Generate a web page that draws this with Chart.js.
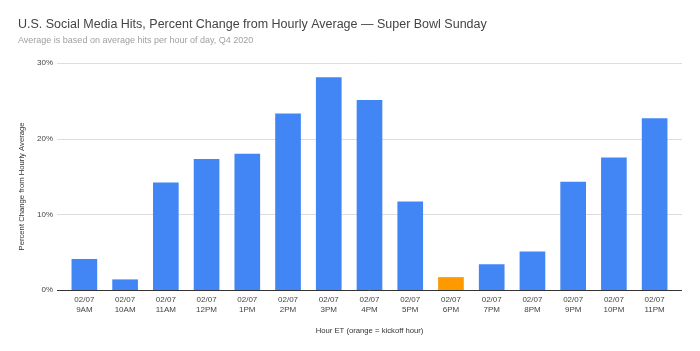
<!DOCTYPE html>
<html><head><meta charset="utf-8">
<script src="https://cdn.jsdelivr.net/npm/chart.js@4/dist/chart.umd.min.js"></script>
<style>html,body{margin:0;padding:0;background:#fff}#wrap{width:700px;height:351px}</style>
</head><body><div id="wrap"><canvas id="c"></canvas></div>
<script>
const dates = ["02/07","02/07","02/07","02/07","02/07","02/07","02/07","02/07","02/07","02/07","02/07","02/07","02/07","02/07","02/07"];
const hours = ["9AM","10AM","11AM","12PM","1PM","2PM","3PM","4PM","5PM","6PM","7PM","8PM","9PM","10PM","11PM"];
const pctChange = [4.1, 1.4, 14.2, 17.3, 18.0, 23.3, 28.1, 25.1, 11.7, 1.7, 3.4, 5.1, 14.3, 17.5, 22.7];
const kickoffHour = "6PM";
const yTicks = [0, 10, 20, 30];
const yTitle = 'Percent Change from Hourly Average';

const labels = dates.map((d, i) => [d, hours[i]]);
const colors = hours.map(h => h === kickoffHour ? '#FF9900' : '#4285F4');
const FONT = "'Liberation Sans', Arial, sans-serif";
const GRID_EXT = 7;

// horizontal gridlines a bit wider than the category area, and y title centred on plot + x labels
const wideGrid = {
  id: 'wideGrid',
  beforeDatasetsDraw(chart) {
    const { ctx, chartArea, scales: { y } } = chart;
    ctx.save();
    y.ticks.forEach(t => {
      const py = Math.round(y.getPixelForValue(t.value)) + 0.5;
      ctx.strokeStyle = '#dddddd';
      ctx.lineWidth = 1;
      ctx.beginPath();
      ctx.moveTo(chartArea.left - GRID_EXT, py);
      ctx.lineTo(chartArea.right + GRID_EXT, py);
      ctx.stroke();
    });
    ctx.restore();
  },
  afterDatasetsDraw(chart) {
    const { ctx, chartArea, scales: { x, y } } = chart;
    const py = Math.round(y.getPixelForValue(0)) + 0.5;
    ctx.save();
    ctx.strokeStyle = '#333333'; ctx.lineWidth = 1;
    ctx.beginPath(); ctx.moveTo(chartArea.left - GRID_EXT, py); ctx.lineTo(chartArea.right + GRID_EXT, py); ctx.stroke();
    // y axis title
    const cy = (chartArea.top + x.top + 20) / 2;
    ctx.translate(y.left + 4, cy);
    ctx.rotate(-Math.PI / 2);
    ctx.font = '7.7px ' + FONT;
    ctx.fillStyle = '#333';
    ctx.textAlign = 'center';
    ctx.textBaseline = 'middle';
    ctx.fillText(yTitle, 0, 0);
    ctx.restore();
  }
};

new Chart(document.getElementById('c'), {
  type: 'bar',
  data: { labels, datasets: [{ data: pctChange, backgroundColor: colors, barPercentage: 0.63, categoryPercentage: 1.0 }] },
  options: {
    responsive: true, maintainAspectRatio: false, animation: false,
    layout: { padding: { left: 18, right: 25, top: 0, bottom: 0 } },
    plugins: {
      legend: { display: false }, tooltip: { enabled: false },
      title: { display: true, text: 'U.S. Social Media Hits, Percent Change from Hourly Average \u2014 Super Bowl Sunday',
        align: 'start', color: '#444', font: { family: FONT, size: 12.5, weight: 'normal' }, padding: { top: 17.5, bottom: 3 } },
      subtitle: { display: true, text: 'Average is based on average hits per hour of day, Q4 2020',
        align: 'start', color: '#a0a0a0', font: { family: FONT, size: 9 }, padding: { top: 0, bottom: 16.6 } }
    },
    scales: {
      x: {
        grid: { display: false, drawTicks: false },
        border: { display: false },
        ticks: { color: '#444', font: { family: FONT, size: 8, lineHeight: 1.2 }, padding: 5, maxRotation: 0, autoSkip: false },
        title: { display: true, text: 'Hour ET (orange = kickoff hour)', color: '#333', font: { family: FONT, size: 7.7 }, padding: { top: 4, bottom: 15.5 } },
        afterFit: s => { s.height = 61; }
      },
      y: {
        min: 0, max: 30,
        afterBuildTicks: s => { s.ticks = yTicks.map(v => ({ value: v })); },
        grid: { display: false, drawTicks: false },
        border: { display: false },
        ticks: { color: '#444', font: { family: FONT, size: 8 }, padding: 11, callback: v => v + '%' },
        title: { display: false },
        afterFit: s => { s.width = 46; }
      }
    }
  },
  plugins: [wideGrid]
});
</script></body></html>
